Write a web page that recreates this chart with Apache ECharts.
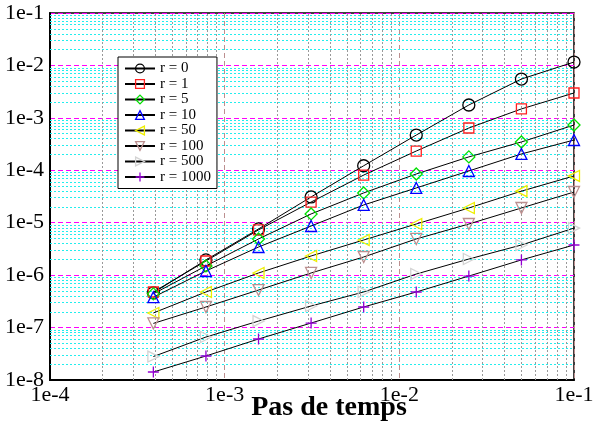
<!DOCTYPE html>
<html>
<head>
<meta charset="utf-8">
<script src="https://cdn.jsdelivr.net/npm/echarts@6/dist/echarts.min.js"></script>
<style>
  html, body { margin: 0; padding: 0; background: #fff; }
  #chart { width: 593px; height: 425px; }
</style>
</head>
<body>
<div id="chart"></div>
<script>
// Time steps (x) and error for each r value (y)
const timeSteps = [3.90625e-4, 7.8125e-4, 1.5625e-3, 3.125e-3, 6.25e-3, 1.25e-2, 2.5e-2, 5e-2, 1e-1];

const errR0    = [4.6e-7, 1.95e-6, 7.6e-6, 3.1e-5, 1.22e-4, 4.7e-4, 1.76e-3, 5.5e-3, 1.16e-2];
const errR1    = [4.77e-7, 1.86e-6, 7.3e-6, 2.48e-5, 8.1e-5, 2.33e-4, 6.4e-4, 1.48e-3, 2.98e-3];
const errR5    = [4.4e-7, 1.5e-6, 4.9e-6, 1.47e-5, 3.7e-5, 8.5e-5, 1.8e-4, 3.47e-4, 7.3e-4];
const errR10   = [3.8e-7, 1.2e-6, 3.44e-6, 8.65e-6, 2.18e-5, 4.6e-5, 9.7e-5, 2.05e-4, 3.78e-4];
const errR50   = [1.9e-7, 4.77e-7, 1.1e-6, 2.32e-6, 4.68e-6, 9.45e-6, 1.91e-5, 4.0e-5, 7.8e-5];
const errR100  = [1.2e-7, 2.47e-7, 5.2e-7, 1.1e-6, 2.22e-6, 4.9e-6, 9.45e-6, 1.91e-5, 3.85e-5];
const errR500  = [2.8e-8, 6.6e-8, 1.33e-7, 2.58e-7, 4.77e-7, 1.05e-6, 2.03e-6, 3.76e-6, 7.9e-6];
const errR1000 = [1.42e-8, 2.87e-8, 6.05e-8, 1.22e-7, 2.47e-7, 4.77e-7, 9.6e-7, 1.95e-6, 3.76e-6];

const seriesNames = ['r = 0', 'r = 1', 'r = 5', 'r = 10', 'r = 50', 'r = 100', 'r = 500', 'r = 1000'];
const seriesValues = [errR0, errR1, errR5, errR10, errR50, errR100, errR500, errR1000];

// Axis ranges (decades)
const xMinExp = -4, xMaxExp = -1;
const yMinExp = -8, yMaxExp = -1;
const xAxisTitle = 'Pas de temps';

const FONT = 'Liberation Serif';

// Marker styles per series
const markers = [
  { symbol: 'circle',   size: 12, color: '#000000', rotate: 0 },
  { symbol: 'rect',     size: 10, color: '#ff2020', rotate: 0 },
  { symbol: 'diamond',  size: 12, color: '#00e000', rotate: 0 },
  { symbol: 'triangle', size: 11, color: '#0000ff', rotate: 0 },
  { symbol: 'triangle', size: 11, color: '#eeee00', rotate: 90 },
  { symbol: 'triangle', size: 11, color: '#bc8f8f', rotate: 180 },
  { symbol: 'triangle', size: 11, color: '#d3d3d3', rotate: -90 },
  { symbol: 'path://M5,0L5,10M0,5L10,5', size: 11, color: '#9400d3', rotate: 0 }
];

// Minor (2..9 x 10^k) grid positions
function minorValues(e0, e1) {
  const out = [];
  for (let e = e0; e < e1; e++) {
    for (let m = 2; m <= 9; m++) out.push(m * Math.pow(10, e));
  }
  return out;
}
const xMinor = minorValues(xMinExp, xMaxExp);
const yMinor = minorValues(yMinExp, yMaxExp);

const xLo = Math.pow(10, xMinExp), xHi = Math.pow(10, xMaxExp);
const yLo = Math.pow(10, yMinExp), yHi = Math.pow(10, yMaxExp);

const expLabel = v => '1e' + Math.round(Math.log10(v));

const series = [];

// Minor grid lines, drawn in data coordinates under the curves
series.push({
  name: 'minorY', type: 'lines', coordinateSystem: 'cartesian2d', silent: true, z: 1,
  polyline: false,
  lineStyle: { color: '#22eeee', type: [2, 2], width: 1, opacity: 1 },
  data: yMinor.map(v => ({ coords: [[xLo, v], [xHi, v]] }))
});
series.push({
  name: 'minorX', type: 'lines', coordinateSystem: 'cartesian2d', silent: true, z: 1,
  polyline: false,
  lineStyle: { color: '#999999', type: [2, 2], width: 1, opacity: 1 },
  data: xMinor.map(v => ({ coords: [[v, yLo], [v, yHi]] }))
});

seriesNames.forEach((name, i) => series.push({
  name: name,
  type: 'line',
  data: timeSteps.map((x, j) => [x, seriesValues[i][j]]),
  symbol: markers[i].symbol,
  symbolSize: markers[i].size,
  symbolRotate: markers[i].rotate,
  showAllSymbol: true,
  lineStyle: { color: '#000', width: 1 },
  itemStyle: { color: 'transparent', borderColor: markers[i].color, borderWidth: 1.3 },
  emphasis: { disabled: true },
  z: 3
}));

const chart = echarts.init(document.getElementById('chart'), null, { renderer: 'canvas' });
chart.setOption({
  animation: false,
  backgroundColor: '#fff',
  textStyle: { fontFamily: FONT },
  grid: {
    left: 50, top: 13, right: 19, bottom: 45,
    containLabel: false, outerBoundsMode: 'none',
    show: true, borderColor: '#000', borderWidth: 1.5, backgroundColor: 'transparent'
  },
  legend: {
    data: seriesNames,
    orient: 'vertical',
    left: 118, top: 57,
    padding: [4, 6, 4, 6],
    itemWidth: 30, itemHeight: 11, itemGap: 0.5,
    backgroundColor: '#fff',
    borderColor: '#000', borderWidth: 1,
    itemStyle: { color: 'transparent', borderWidth: 1.3 },
    textStyle: { fontFamily: FONT, fontSize: 15, lineHeight: 14, color: '#000' }
  },
  xAxis: {
    type: 'log', logBase: 10,
    min: xLo, max: xHi, interval: 1,
    name: xAxisTitle, nameLocation: 'middle', nameGap: 14, nameMoveOverlap: false,
    nameTextStyle: { fontFamily: FONT, fontSize: 28, fontWeight: 'bold', color: '#000', padding: [0, 0, 0, 34] },
    axisLine: { show: true, lineStyle: { color: '#000', width: 2 } },
    axisTick: { show: false },
    axisLabel: { formatter: expLabel, fontFamily: FONT, fontSize: 22, color: '#000', margin: 4, showMinLabel: true, showMaxLabel: true },
    splitLine: { show: true, lineStyle: { color: '#bc8f8f', type: [5, 3], width: 1 } }
  },
  yAxis: {
    type: 'log', logBase: 10,
    min: yLo, max: yHi, interval: 1,
    axisLine: { show: true, lineStyle: { color: '#000', width: 2 } },
    axisTick: { show: false },
    axisLabel: { formatter: expLabel, fontFamily: FONT, fontSize: 22, color: '#000', margin: 6, showMinLabel: true, showMaxLabel: true },
    splitLine: { show: true, lineStyle: { color: '#ff00ff', type: [5, 3], width: 1.2 } }
  },
  series: series
});
</script>
</body>
</html>
